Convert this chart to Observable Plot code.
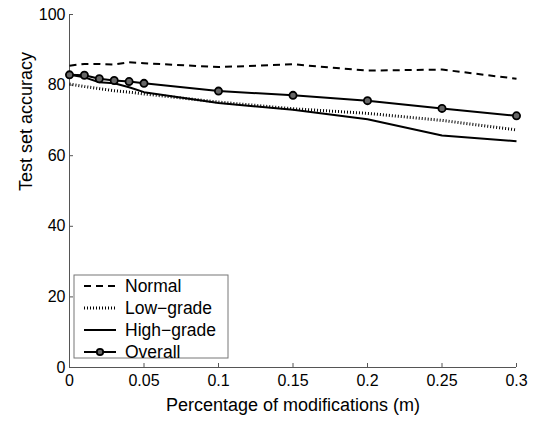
<!DOCTYPE html>
<html><head><meta charset="utf-8">
<script src="https://cdn.jsdelivr.net/npm/d3@7"></script>
<script src="https://cdn.jsdelivr.net/npm/@observablehq/plot@0.6"></script>
<style>body{margin:0;background:#fff;font-family:"Liberation Sans",Arial,sans-serif}</style>
</head><body><div id="chart"></div>
<script>
const mValues = [0, 0.01, 0.02, 0.03, 0.04, 0.05, 0.1, 0.15, 0.2, 0.25, 0.3];
const normal = [85.5, 86.0, 86.0, 85.8, 86.5, 86.2, 85.1, 85.9, 84.1, 84.4, 81.8];
const lowGrade = [80.3, 79.6, 79.0, 78.4, 78.0, 77.5, 75.2, 73.3, 72.0, 70.0, 67.3];
const highGrade = [82.9, 82.2, 80.8, 80.5, 79.4, 78.0, 74.9, 73.0, 70.3, 65.7, 64.1];
const overall = [82.9, 82.8, 81.8, 81.3, 81.0, 80.5, 78.3, 77.1, 75.6, 73.4, 71.3];
const xTicks = [0, 0.05, 0.1, 0.15, 0.2, 0.25, 0.3];
const xTickLabels = ["0", "0.05", "0.1", "0.15", "0.2", "0.25", "0.3"];
const yTicks = [0, 20, 40, 60, 80, 100];
const seriesNames = ["Normal", "Low-grade", "High-grade", "Overall"];

const styles = {
  "Normal": {dash: "7,5", width: 2},
  "Low-grade": {dash: "1,2", width: 3},
  "High-grade": {dash: null, width: 2},
  "Overall": {dash: null, width: 2}
};
const seriesValues = [normal, lowGrade, highGrade, overall];
const rows = [];
seriesNames.forEach((s, i) => mValues.forEach((m, j) => rows.push({series: s, m, v: seriesValues[i][j]})));

const lineMarks = seriesNames.map(s => Plot.line(rows.filter(d => d.series === s), {
  x: "m", y: "v", stroke: "black", strokeWidth: styles[s].width,
  strokeDasharray: styles[s].dash || undefined, strokeLinecap: "butt"
}));

const plot = Plot.plot({
  width: 538, height: 422,
  marginLeft: 69, marginRight: 22, marginTop: 14, marginBottom: 55,
  style: {fontFamily: '"Liberation Sans", Arial, sans-serif', fontSize: "16px", color: "black", background: "white"},
  x: {domain: [0, 0.3]},
  y: {domain: [0, 100]},
  marks: [
    Plot.axisX({ticks: xTicks, tickFormat: (d, i) => xTickLabels[i], tickSize: -4, tickPadding: 11, label: null, stroke: "#555"}),
    Plot.axisY({ticks: yTicks, tickSize: -4, tickPadding: 8, label: null, stroke: "#555"}),
    Plot.ruleX([0], {stroke: "#555"}),
    Plot.ruleY([0], {stroke: "#555"}),
    ...lineMarks,
    Plot.dot(rows.filter(d => d.series === "Overall"), {x: "m", y: "v", r: 3.6, stroke: "black", strokeWidth: 1.8, fill: "#666"}),
    Plot.text(["Percentage of modifications (m)"], {frameAnchor: "bottom", dy: 43, fontSize: 18}),
    Plot.text(["Test set accuracy"], {frameAnchor: "left", dx: -43, rotate: -90, fontSize: 18})
  ]
});
document.getElementById("chart").appendChild(plot);

// legend inside plot area
const svg = d3.select(plot);
const lg = svg.append("g").attr("transform", "translate(74,275)");
lg.append("rect").attr("width", 154).attr("height", 83).attr("fill", "white").attr("stroke", "#777");
seriesNames.forEach((s, i) => {
  const y = 11 + i * 22;
  const line = lg.append("line").attr("x1", 10).attr("x2", 42).attr("y1", y).attr("y2", y)
    .attr("stroke", "black").attr("stroke-width", styles[s].width);
  if (styles[s].dash) line.attr("stroke-dasharray", styles[s].dash);
  if (s === "Overall") lg.append("circle").attr("cx", 26).attr("cy", y).attr("r", 3.2)
    .attr("stroke", "black").attr("stroke-width", 1.8).attr("fill", "#666");
  lg.append("text").attr("x", 51).attr("y", y).attr("dy", "0.35em").attr("font-size", 17.5)
    .attr("text-anchor", "start").attr("fill", "black").text(s.replace("-", "\u2212"));
});
</script></body></html>
